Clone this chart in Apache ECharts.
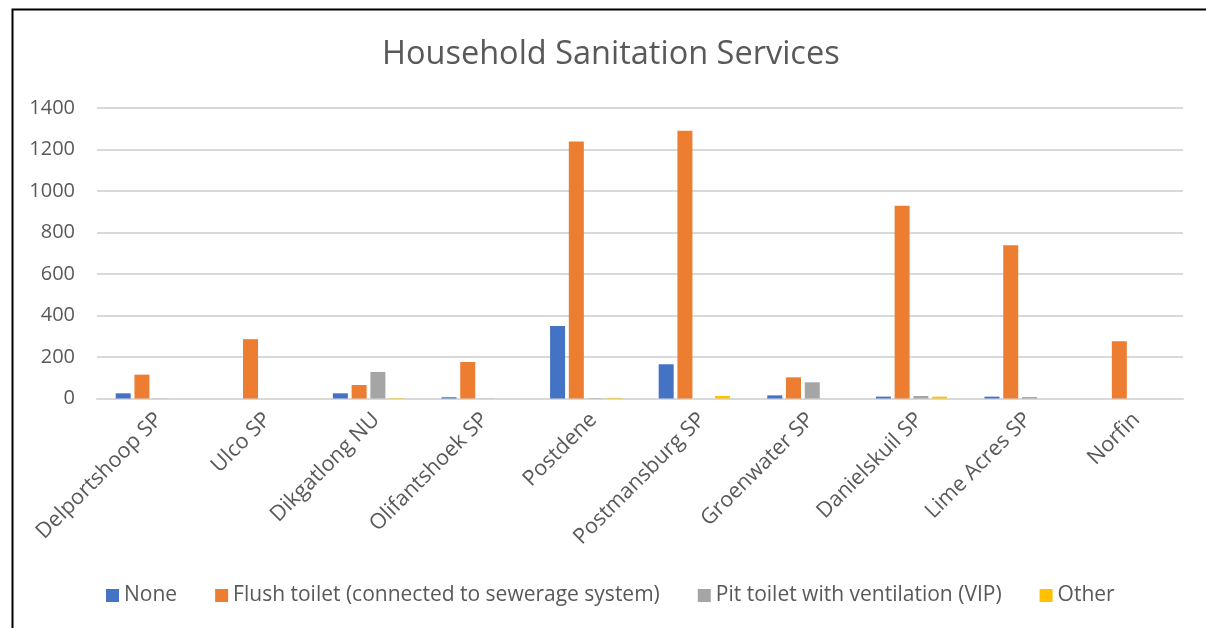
<!DOCTYPE html>
<html>
<head>
<meta charset="utf-8">
<script src="https://cdn.jsdelivr.net/npm/echarts@6/dist/echarts.min.js"></script>
<style>
html,body{margin:0;padding:0;background:#fff;}
#chart{width:1206px;height:628px;}
</style>
</head>
<body>
<div id="chart"></div>
<script>
const categories = ["Delportshoop SP","Ulco SP","Dikgatlong NU","Olifantshoek SP","Postdene","Postmansburg SP","Groenwater SP","Danielskuil SP","Lime Acres SP","Norfin"];
const seriesNames = ["None","Flush toilet (connected to sewerage system)","Pit toilet with ventilation (VIP)","Other"];
const noneVals  = [25, 0, 25, 6, 350, 165, 15, 9, 9, 0];
const flushVals = [115, 286, 65, 176, 1239, 1290, 102, 929, 739, 276];
const vipVals   = [1, 0, 128, 1, 2, 0, 78, 12, 7, 0];
const otherVals = [0, 0, 2, 0, 3, 12, 0, 9, 0, 0];
const yTicks = [0, 200, 400, 600, 800, 1000, 1200, 1400];

const colors = ["#4472C4","#ED7D31","#A5A5A5","#FFC000"];
const textColor = "#595959";
const font = "Open Sans";

const chart = echarts.init(document.getElementById('chart'));
const allVals = [noneVals, flushVals, vipVals, otherVals];
chart.setOption({
  animation: false,
  color: colors,
  textStyle: {fontFamily: font, color: textColor},
  title: {
    text: "Household Sanitation Services",
    left: 377, top: 33,
    textStyle: {fontFamily: font, fontSize: 32.5, fontWeight: 'normal', color: textColor}
  },
  graphic: [{
    type: 'rect', left: 10, top: 7, silent: true,
    shape: {width: 1220, height: 650},
    style: {fill: 'none', stroke: '#000', lineWidth: 2}
  }],
  legend: {
    top: 580, left: 101,
    itemWidth: 13, itemHeight: 13, itemGap: 38,
    icon: 'rect',
    textStyle: {fontFamily: font, fontSize: 21, color: textColor},
    data: seriesNames
  },
  grid: {left: 97, right: 23, top: 108, bottom: 229.5, containLabel: false},
  xAxis: {
    type: 'category', data: categories,
    axisLine: {show: true, lineStyle: {color: '#D9D9D9', width: 2}},
    axisTick: {show: false},
    axisLabel: {rotate: 45, interval: 0, margin: 10, verticalAlign: 'top', fontFamily: font, fontSize: 21.5, color: textColor}
  },
  yAxis: {
    type: 'value', min: yTicks[0], max: yTicks[yTicks.length-1], interval: 200,
    axisLine: {show: false}, axisTick: {show: false},
    splitLine: {lineStyle: {color: '#D9D9D9', width: 2}},
    axisLabel: {margin: 22, fontFamily: font, fontSize: 20, color: textColor, formatter: v => String(v)}
  },
  series: seriesNames.map((n, i) => ({
    name: n, type: 'bar', data: allVals[i],
    barWidth: 15, barGap: '25%',
    itemStyle: {color: colors[i]}
  }))
});
</script>
</body>
</html>
